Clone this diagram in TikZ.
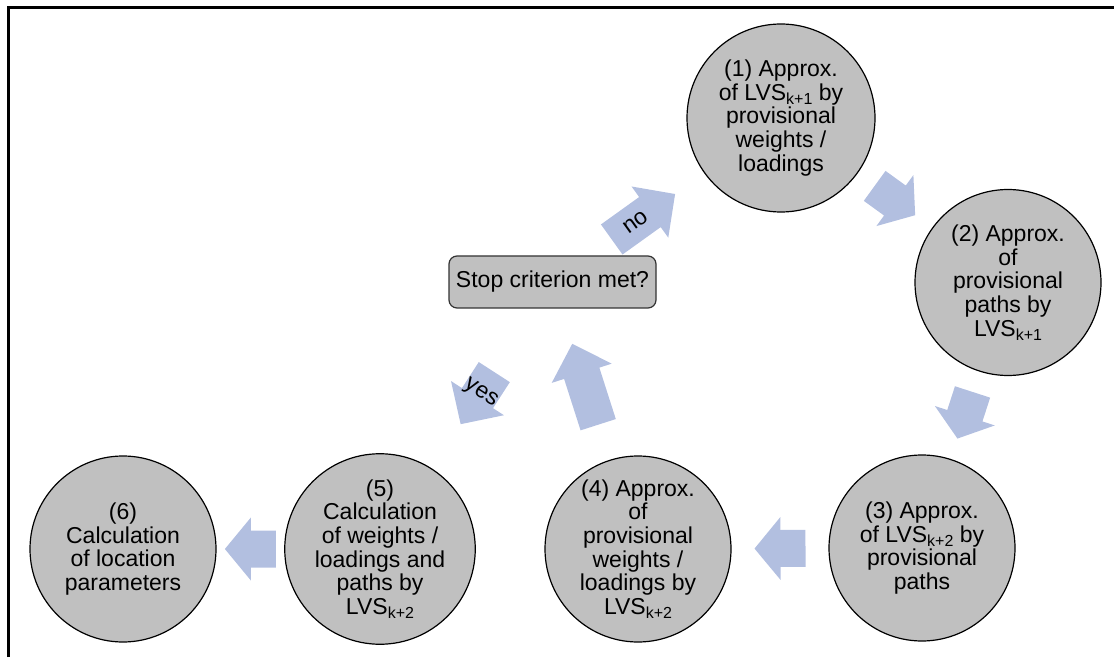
\documentclass[tikz,border=0pt]{standalone}
\usepackage{fontspec}
\setmainfont{Liberation Sans}
\definecolor{stagegray}{RGB}{192,192,192}
\definecolor{flowblue}{RGB}{178,191,224}
% subscript of the latent variable scores
\newcommand{\lvs}[1]{LVS\raisebox{-4pt}{\fontsize{16}{16}\selectfont #1}}
\tikzset{
  stage/.style={circle, draw=black, line width=1.2pt, fill=stagegray,
    minimum size=186pt, inner sep=0pt, align=center,
    font=\fontsize{23}{23.7}\selectfont},
  query/.style={rounded corners=8pt, draw=black!80, line width=1.2pt,
    fill=stagegray, minimum width=207pt, minimum height=52pt,
    font=\fontsize{23}{23.5}\selectfont},
  flow/.style={pos=0.5, sloped, allow upside down},
  flowlabel/.style={sloped, allow upside down, inner sep=0pt,
    font=\fontsize{23}{23}\selectfont},
  % block arrow: total length / head length
  pics/barrow/.style args={#1/#2}{code={
    \fill[flowblue] (-#1/2,-18.5) -- (#1/2-#2,-18.5) -- (#1/2-#2,-31.5)
      -- (#1/2,0) -- (#1/2-#2,31.5) -- (#1/2-#2,18.5) -- (-#1/2,18.5) -- cycle;
  }}
}
\begin{document}
\begin{tikzpicture}[x=1pt,y=1pt]
\useasboundingbox (0,0) rectangle (1114,657);
% frame
\draw[line width=3pt] (8.5,0) -- (8.5,649.5) -- (1114,649.5);

% decision box and stages
\node[query] (crit) at (552.5,375) {Stop criterion met?};
\node[stage, minimum size=188pt] (s1) at (781,539) {(1) Approx.\\of \lvs{k+1} by\\provisional\\weights /\\loadings};
\node[stage] (s2) at (1008,374.5) {(2) Approx.\\of\\provisional\\paths by\\\lvs{k+1}};
\node[stage] (s3) at (922,109) {(3) Approx.\\of \lvs{k+2} by\\provisional\\paths};
\node[stage] (s4) at (638,108) {(4) Approx.\\of\\provisional\\weights /\\loadings by\\\lvs{k+2}};
\node[stage] (s5) at (380,108) {(5)\\Calculation\\of weights /\\loadings and\\paths by\\\lvs{k+2}};
\node[stage] (s6) at (123,108) {(6)\\Calculation\\of location\\parameters};

% block arrows between stages
\path (s1) -- pic[flow]{barrow=50/25} (s2);
\path (s2) -- pic[flow]{barrow=49/24} (s3);
\path (s3) -- pic[flow]{barrow=51/26} (s4);
\path (s5) -- pic[flow]{barrow=51/26} (s6);
\path (s4) -- pic[flow]{barrow=85/31} (crit);
\path (crit) -- pic[flow, pos=0.47]{barrow=78/31}
  node[flowlabel, pos=0.40] {no} (s1);
\path (crit) -- pic[flow, pos=0.56]{barrow=62/31}
  node[flowlabel, pos=0.53, rotate=90] {yes} (s5);
\end{tikzpicture}
\end{document}
